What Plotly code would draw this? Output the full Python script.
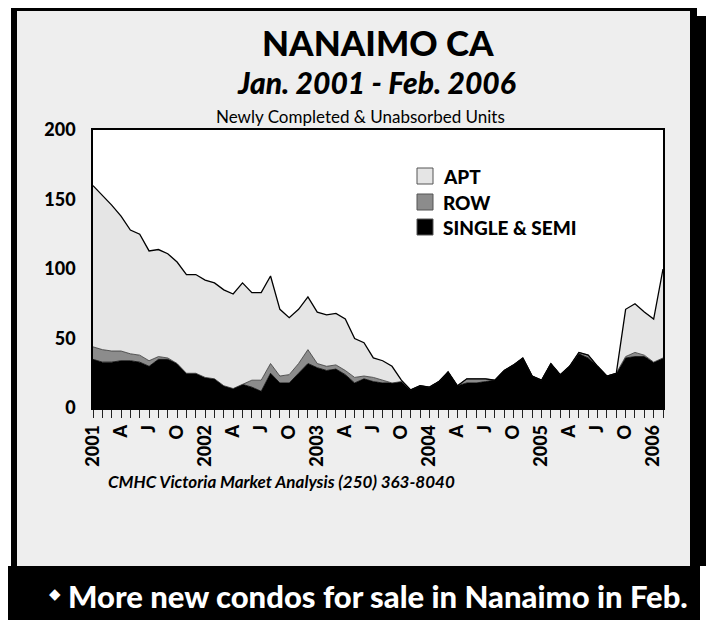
import plotly.graph_objects as go

# ---------------- data (Jan 2001 .. Feb 2006, monthly) ----------------
month_labels = [
    "2001", "", "", "A", "", "", "J", "", "", "O", "", "",
    "2002", "", "", "A", "", "", "J", "", "", "O", "", "",
    "2003", "", "", "A", "", "", "J", "", "", "O", "", "",
    "2004", "", "", "A", "", "", "J", "", "", "O", "", "",
    "2005", "", "", "A", "", "", "J", "", "", "O", "", "",
    "2006", "",
]
single_semi = [35, 33, 33, 34, 34, 33, 30, 35, 35, 32, 25, 25,
               22, 21, 16, 14, 17, 15, 12, 25, 18, 18, 25, 32,
               29, 27, 28, 24, 18, 21, 19, 18, 18, 19, 13, 16,
               15, 19, 26, 16, 18, 18, 19, 20, 27, 31, 36, 23,
               20, 32, 24, 30, 39, 36, 30, 23, 25, 36, 37, 37,
               33, 36]
row = [9, 9, 8, 7, 5, 5, 4, 2, 1, 0, 0, 0,
       0, 0, 0, 0, 0, 5, 8, 7, 5, 6, 7, 10,
       3, 3, 3, 3, 4, 2, 3, 2, 0, 0, 0, 0,
       0, 0, 0, 0, 3, 3, 2, 0, 0, 0, 0, 0,
       0, 0, 0, 0, 1, 2, 0, 0, 0, 1, 3, 1,
       0, 0]
apt = [116, 111, 105, 97, 89, 87, 79, 77, 75, 73, 71, 71,
       70, 69, 69, 68, 73, 63, 63, 63, 48, 41, 39, 38,
       37, 37, 37, 37, 28, 24, 14, 14, 12, 1, 0, 0,
       0, 0, 0, 0, 0, 0, 0, 0, 0, 0, 0, 0,
       0, 0, 0, 0, 0, 0, 0, 0, 0, 34, 35, 31,
       31, 64]
y_ticks = [0, 50, 100, 150, 200]
series_names = ["APT", "ROW", "SINGLE & SEMI"]
series_colors = ["#e5e5e5", "#8c8c8c", "#000000"]

x = list(range(len(month_labels)))

# ---------------- geometry (screen pixels; page body has an 8px margin) ----------------
OFF = 8
W, H = 714 - OFF, 626 - OFF
L, R, T, B = 93, 663, 130, 408   # plot area in screen pixels


def px(v):
    return (v - L) / (R - L)


def py(v):
    return (B - v) / (B - T)


FONT = "Lato, 'Open Sans', 'DejaVu Sans', sans-serif"

fig = go.Figure()
fig.add_trace(go.Scatter(x=x, y=single_semi, name=series_names[2], stackgroup="s",
                         mode="lines", line=dict(color="#000000", width=0.8),
                         fillcolor=series_colors[2]))
fig.add_trace(go.Scatter(x=x, y=row, name=series_names[1], stackgroup="s",
                         mode="lines", line=dict(color="#333333", width=0.8),
                         fillcolor=series_colors[1]))
fig.add_trace(go.Scatter(x=x, y=apt, name=series_names[0], stackgroup="s",
                         mode="lines", line=dict(color="#000000", width=1.3),
                         fillcolor=series_colors[0]))

shapes = [
    # drop shadow / frame / gray panel
    dict(type="rect", xref="paper", yref="paper", x0=px(28), x1=px(714), y0=py(16), y1=py(566),
         fillcolor="black", line=dict(width=0), layer="below"),
    dict(type="rect", xref="paper", yref="paper", x0=px(11), x1=px(697), y0=py(5), y1=py(566),
         fillcolor="black", line=dict(width=0), layer="below"),
    dict(type="rect", xref="paper", yref="paper", x0=px(17), x1=px(690), y0=py(11), y1=py(566),
         fillcolor="#eeeeee", line=dict(width=0), layer="below"),
    # plot area background
    dict(type="rect", xref="paper", yref="paper", x0=0, x1=1, y0=0, y1=1,
         fillcolor="white", line=dict(width=0), layer="below"),
    # bottom banner
    dict(type="rect", xref="paper", yref="paper", x0=px(8), x1=px(700), y0=py(566), y1=py(620),
         fillcolor="black", line=dict(width=0), layer="below"),
]

annotations = [
    dict(text="NANAIMO CA", x=px(378), y=py(42), font=dict(size=35, family=FONT, color="black", weight=900)),
    dict(text="<i>Jan. 2001 - Feb. 2006</i>", x=px(376), y=py(82),
         font=dict(size=30, family=FONT, color="black", weight=900)),
    dict(text="Newly Completed & Unabsorbed Units", x=px(360), y=py(116),
         font=dict(size=17, family=FONT, color="black")),
    dict(text="<i>CMHC Victoria Market Analysis (250) 363-8040</i>", x=px(106), y=py(481), xanchor="left",
         font=dict(size=17, family=FONT, color="black", weight="bold")),
    dict(text="\u25c6", x=px(55), y=py(594),
         font=dict(size=15, family="DejaVu Sans, sans-serif", color="white")),
    dict(text="More new condos for sale in Nanaimo in Feb.", x=px(66), y=py(596), xanchor="left",
         font=dict(size=31, family=FONT, color="white", weight=900)),
]

# custom legend
leg_y = [176, 202, 227]
for name, col, yc in zip(series_names, series_colors, leg_y):
    shapes.append(dict(type="rect", xref="paper", yref="paper", x0=px(417), x1=px(433),
                       y0=py(yc - 8), y1=py(yc + 8), fillcolor=col,
                       line=dict(color="#555555", width=1), layer="above"))
    annotations.append(dict(text=name, x=px(441), y=py(yc), xanchor="left",
                            font=dict(size=19, family=FONT, color="black", weight=900)))

for a in annotations:
    a.setdefault("xref", "paper")
    a.setdefault("yref", "paper")
    a.setdefault("showarrow", False)
    a.setdefault("yanchor", "middle")
    a.setdefault("xanchor", "center")

fig.update_layout(
    width=W, height=H, autosize=False,
    margin=dict(l=L - OFF, r=W - (R - OFF), t=T - OFF, b=H - (B - OFF), pad=0),
    paper_bgcolor="white", plot_bgcolor="white",
    showlegend=False,
    shapes=shapes, annotations=annotations,
    xaxis=dict(range=[0, len(x) - 1], tickmode="array", tickvals=x, ticktext=month_labels,
               tickangle=-90, ticks="outside", ticklen=8, tickcolor="#222222", tickwidth=1,
               showline=True, mirror=True, linecolor="black", linewidth=1.5,
               showgrid=False, zeroline=False,
               tickfont=dict(size=18, family=FONT, color="black", weight=900)),
    yaxis=dict(range=[0, 200], tickmode="array", tickvals=y_ticks, ticks="",
               showline=True, mirror=True, linecolor="black", linewidth=1.5,
               showgrid=False, zeroline=False, ticklabelstandoff=12,
               tickfont=dict(size=18, family=FONT, color="black", weight=900)),
)

fig.write_html("out.html")
